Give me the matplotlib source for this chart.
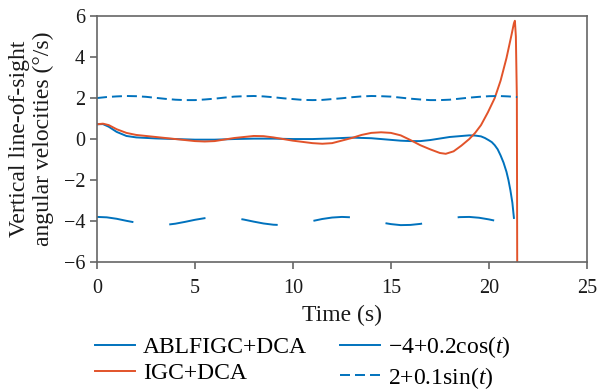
import numpy as np
import matplotlib
matplotlib.use("Agg")
import matplotlib.pyplot as plt
from matplotlib.lines import Line2D

plt.rcParams['font.family'] = ['Liberation Serif', 'DejaVu Serif']
plt.rcParams['mathtext.fontset'] = 'custom'
plt.rcParams['mathtext.rm'] = 'Liberation Serif'
plt.rcParams['mathtext.it'] = 'Liberation Serif:italic'
plt.rcParams['lines.scale_dashes'] = False

# ABLFIGC+DCA response
t_ablf = [0, 0.3, 0.6, 1.0, 1.5, 2.0, 3.0, 4.0, 5.0, 6.0, 7.0, 8.0, 9.0, 10.0,
          11.0, 12.0, 13.0, 14.0, 15.0, 15.5, 16.0, 16.5, 17.0, 18.0, 19.0,
          19.3, 19.6, 19.8, 20.0, 20.15, 20.3, 20.45, 20.6, 20.75, 20.9, 21.0,
          21.1, 21.2, 21.28]
v_ablf = [0.72, 0.73, 0.6, 0.35, 0.15, 0.08, 0.03, 0.0, -0.03, -0.03, 0.0, 0.02,
          0.02, 0.0, 0.0, 0.03, 0.07, 0.04, -0.04, -0.08, -0.1, -0.1, -0.05, 0.1,
          0.18, 0.17, 0.13, 0.05, -0.06, -0.15, -0.3, -0.5, -0.8, -1.15, -1.6,
          -2.0, -2.5, -3.1, -3.85]

# IGC+DCA response
t_igc = [0, 0.3, 0.6, 1.0, 1.5, 2.0, 3.0, 4.0, 5.0, 5.5, 6.0, 7.0, 8.0, 8.5, 9.0,
         10.0, 11.0, 11.5, 12.0, 13.0, 13.5, 14.0, 14.5, 15.0, 15.5, 16.0, 16.5,
         17.0, 17.5, 17.8, 18.2, 18.6, 19.0, 19.3, 19.6, 19.95, 20.3, 20.6,
         20.9, 21.15, 21.28, 21.33, 21.38, 21.43, 21.45]
v_igc = [0.72, 0.75, 0.68, 0.48, 0.3, 0.2, 0.1, 0.0, -0.1, -0.12, -0.1, 0.05, 0.15,
         0.14, 0.08, -0.08, -0.2, -0.23, -0.2, 0.05, 0.2, 0.3, 0.33, 0.3, 0.18,
         -0.05, -0.3, -0.5, -0.68, -0.72, -0.6, -0.32, 0.0, 0.3, 0.68, 1.3, 2.0,
         2.85, 3.95, 5.05, 5.65, 5.77, 5.0, 2.0, -7.0]

# reference signals, read at 0.5 s steps
t_ref = [0, 0.5, 1.0, 1.5, 2.0, 2.5, 3.0, 3.5, 4.0, 4.5, 5.0, 5.5, 6.0, 6.5, 7.0,
         7.5, 8.0, 8.5, 9.0, 9.5, 10.0, 10.5, 11.0, 11.5, 12.0, 12.5, 13.0, 13.5,
         14.0, 14.5, 15.0, 15.5, 16.0, 16.5, 17.0, 17.5, 18.0, 18.5, 19.0, 19.5,
         20.0, 20.5, 21.0, 21.45]
v_cos = [-3.80, -3.82, -3.89, -3.99, -4.08, -4.16, -4.20, -4.19, -4.13, -4.04,
         -3.94, -3.86, -3.81, -3.80, -3.85, -3.93, -4.03, -4.12, -4.18, -4.20,
         -4.17, -4.10, -4.00, -3.90, -3.83, -3.80, -3.82, -3.88, -3.97, -4.07,
         -4.15, -4.20, -4.19, -4.14, -4.06, -3.96, -3.87, -3.81, -3.80, -3.84,
         -3.92, -4.02, -4.11, -4.18]
v_sin = [2.00, 2.05, 2.08, 2.10, 2.09, 2.06, 2.01, 1.96, 1.92, 1.90, 1.90, 1.93,
         1.97, 2.02, 2.07, 2.09, 2.10, 2.08, 2.04, 1.99, 1.95, 1.91, 1.90, 1.91,
         1.95, 1.99, 2.04, 2.08, 2.10, 2.09, 2.07, 2.02, 1.97, 1.93, 1.90, 1.90,
         1.92, 1.97, 2.02, 2.06, 2.09, 2.10, 2.08, 2.05]

blue = '#0072BD'
red = '#E2532A'
lw = 1.4
txt = '#1a1a1a'

fig = plt.figure(figsize=(6, 3.92), dpi=100)
ax = fig.add_axes([0.1617, 0.3316, 0.8163, 0.6274])

ax.plot(t_ablf, v_ablf, color=blue, lw=lw)
ax.plot(t_igc, v_igc, color=red, lw=lw)
ax.plot(t_ref, v_cos, color=blue, lw=lw, linestyle=(0, (26.5, 26)))
ax.plot(t_ref, v_sin, color=blue, lw=lw, linestyle=(0, (7.2, 3.6)))

ax.set_xlim(0, 25)
ax.set_ylim(-6, 6)
ax.set_xticks([0, 5, 10, 15, 20, 25])
ax.set_yticks([-6, -4, -2, 0, 2, 4, 6])

gray = '#666666'
for s in ax.spines.values():
    s.set_color(gray)
    s.set_linewidth(1.2)
ax.tick_params(direction='out', length=5, width=1.2, color=gray,
               labelsize=14.5, labelcolor=txt)
ax.tick_params(axis='x', pad=7.5)
ax.tick_params(axis='y', pad=3.5)

ax.set_xlabel('Time (s)', fontsize=17, color=txt, labelpad=5)
ax.set_ylabel('Vertical line-of-sight\nangular velocities (°/s)', fontsize=17,
              color=txt, linespacing=1.2, labelpad=7)

handles = [
    Line2D([], [], color=blue, lw=lw),
    Line2D([], [], color=red, lw=lw),
    Line2D([], [], color=blue, lw=lw),
    Line2D([], [], color=blue, lw=lw, linestyle=(0, (7.2, 3.6))),
]
labels = ['ABLFIGC+DCA', 'IGC+DCA', '−4+0.2cos($t$)', '2+0.1sin($t$)']
fig.legend(handles, labels, ncol=2, loc='upper left',
           bbox_to_anchor=(0.158, 0.148), frameon=False, fontsize=17,
           handlelength=1.7, handletextpad=0.34, columnspacing=1.4,
           labelspacing=0.2, borderpad=0, borderaxespad=0)

fig.savefig('out.png', dpi=100)
